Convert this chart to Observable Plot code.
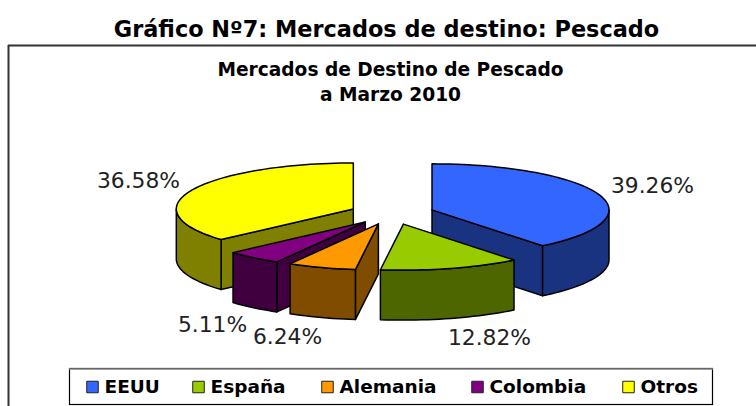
<!DOCTYPE html>
<html>
<head>
<meta charset="utf-8">
<script src="https://cdn.jsdelivr.net/npm/d3@7"></script>
<script src="https://cdn.jsdelivr.net/npm/@observablehq/plot@0.6"></script>
<style>
html,body{margin:0;padding:0;background:#fff;overflow:hidden}
svg{display:block}
</style>
</head>
<body>
<div id="chart"></div>
<script>
const categories = ["EEUU", "España", "Alemania", "Colombia", "Otros"];
const shares = [39.26, 12.82, 6.24, 5.11, 36.58];
const topColors = ["#3366FF", "#99CC00", "#FF9900", "#800080", "#FFFF00"];
const sideColors = ["#1A3380", "#4D6600", "#804D00", "#400040", "#808000"];
const drawOrder = [0, 4, 1, 3, 2];
const valueLabels = ["39.26%", "12.82%", "6.24%", "5.11%", "36.58%"];
const labelX = [652, 489, 287, 212, 138];
const labelY = [186, 338, 337, 325, 181];
const legendX = [92, 198, 327, 477, 628];
const titleText = "Gráfico Nº7: Mercados de destino: Pescado";
const subtitleLines = ["Mercados de Destino de Pescado", "a Marzo 2010"];

const W = 756, H = 406;
const cx = 391.5, cy = 213, rx = 177, ry = 46, explode = 42.4, depth = 50;
const total = d3.sum(shares);
const rad = d => d * Math.PI / 180;
let start = 0;
const slices = categories.map((name, i) => {
  const a0 = start, a1 = start + shares[i] / total * 360;
  start = a1;
  const mid = rad((a0 + a1) / 2);
  return {name, i, a0, a1,
    ax: cx + explode * Math.sin(mid),
    ay: cy - explode * (ry / rx) * Math.cos(mid)};
});
const pt = (s, a, dz = 0) => [s.ax + rx * Math.sin(rad(a)), s.ay - ry * Math.cos(rad(a)) + dz];
const arc = (s, a0, a1, dz = 0) => {
  const n = Math.max(2, Math.ceil(Math.abs(a1 - a0) / 2));
  return d3.range(n + 1).map(k => pt(s, a0 + (a1 - a0) * k / n, dz));
};

const polys = [];
const add = (coords, fill) => {
  const id = polys.length;
  polys.push({id, fill, coords: [...coords, coords[0]]});
};
for (const i of drawOrder) {
  const s = slices[i];
  const c = [s.ax, s.ay];
  const quad = a => [c, pt(s, a), pt(s, a, depth), [s.ax, s.ay + depth]];
  if (Math.sin(rad(s.a1)) > 0) add(quad(s.a1), sideColors[i]);
  if (Math.sin(rad(s.a0)) < 0 && s.a0 > 180) add(quad(s.a0), sideColors[i]);
  const f0 = Math.max(s.a0, 90), f1 = Math.min(s.a1, 270);
  if (f1 > f0) add([...arc(s, f0, f1), ...arc(s, f1, f0, depth)], sideColors[i]);
  add([c, ...arc(s, s.a0, s.a1)], topColors[i]);
}
const lineData = polys.flatMap(p => p.coords.map(([x, y]) => ({x, y, id: p.id, fill: p.fill})));

const font = "'DejaVu Sans', Verdana, sans-serif";
const legendY = 386.5;
const legendData = categories.map((name, i) => ({name, x: legendX[i], fill: topColors[i]}));
const labelData = valueLabels.map((t, i) => ({t, x: labelX[i], y: labelY[i]}));

const chart = Plot.plot({
  width: W, height: H, margin: 0,
  style: {background: "#fff", fontFamily: font},
  x: {domain: [0, W], range: [0, W], axis: null},
  y: {domain: [0, H], range: [0, H], axis: null},
  marks: [
    Plot.ruleY([45], {x1: 8, x2: W, stroke: "#333", strokeWidth: 2}),
    Plot.ruleX([8], {y1: 45, y2: H, stroke: "#333", strokeWidth: 2}),
    Plot.line(lineData, {x: "x", y: "y", z: "id", fill: "fill", stroke: "#000", strokeWidth: 1.5, curve: "linear", strokeLinejoin: "round"}),
    Plot.text([titleText], {x: () => 386, y: () => 29, text: d => d, fontSize: 22.4, fontWeight: "bold", fill: "#000", fontFamily: font}),
    Plot.text(subtitleLines, {x: () => 390, y: (d, i) => 70 + i * 25, text: d => d, fontSize: 18.6, fontWeight: "bold", fill: "#000", fontFamily: font}),
    Plot.text(labelData, {x: "x", y: "y", text: "t", fontSize: 21.8, fill: "#222", fontFamily: font}),
    Plot.rect([0], {x1: () => 69.5, x2: () => 712.5, y1: () => 368.5, y2: () => 404.5, fill: "#fff", stroke: "#000", strokeWidth: 1.2}),
    Plot.ruleY([368.5], {x1: 69, x2: 713, stroke: "#888", strokeWidth: 1.5}),
    Plot.dot(legendData, {x: "x", y: () => legendY, symbol: "square", r: 6.5, fill: "fill", stroke: "#222", strokeWidth: 1}),
    Plot.text(legendData, {x: d => d.x + 12, y: () => legendY, text: "name", textAnchor: "start", fontSize: 18.5, fontWeight: "bold", fill: "#000", fontFamily: font})
  ]
});
document.getElementById("chart").appendChild(chart);
</script>
</body>
</html>
